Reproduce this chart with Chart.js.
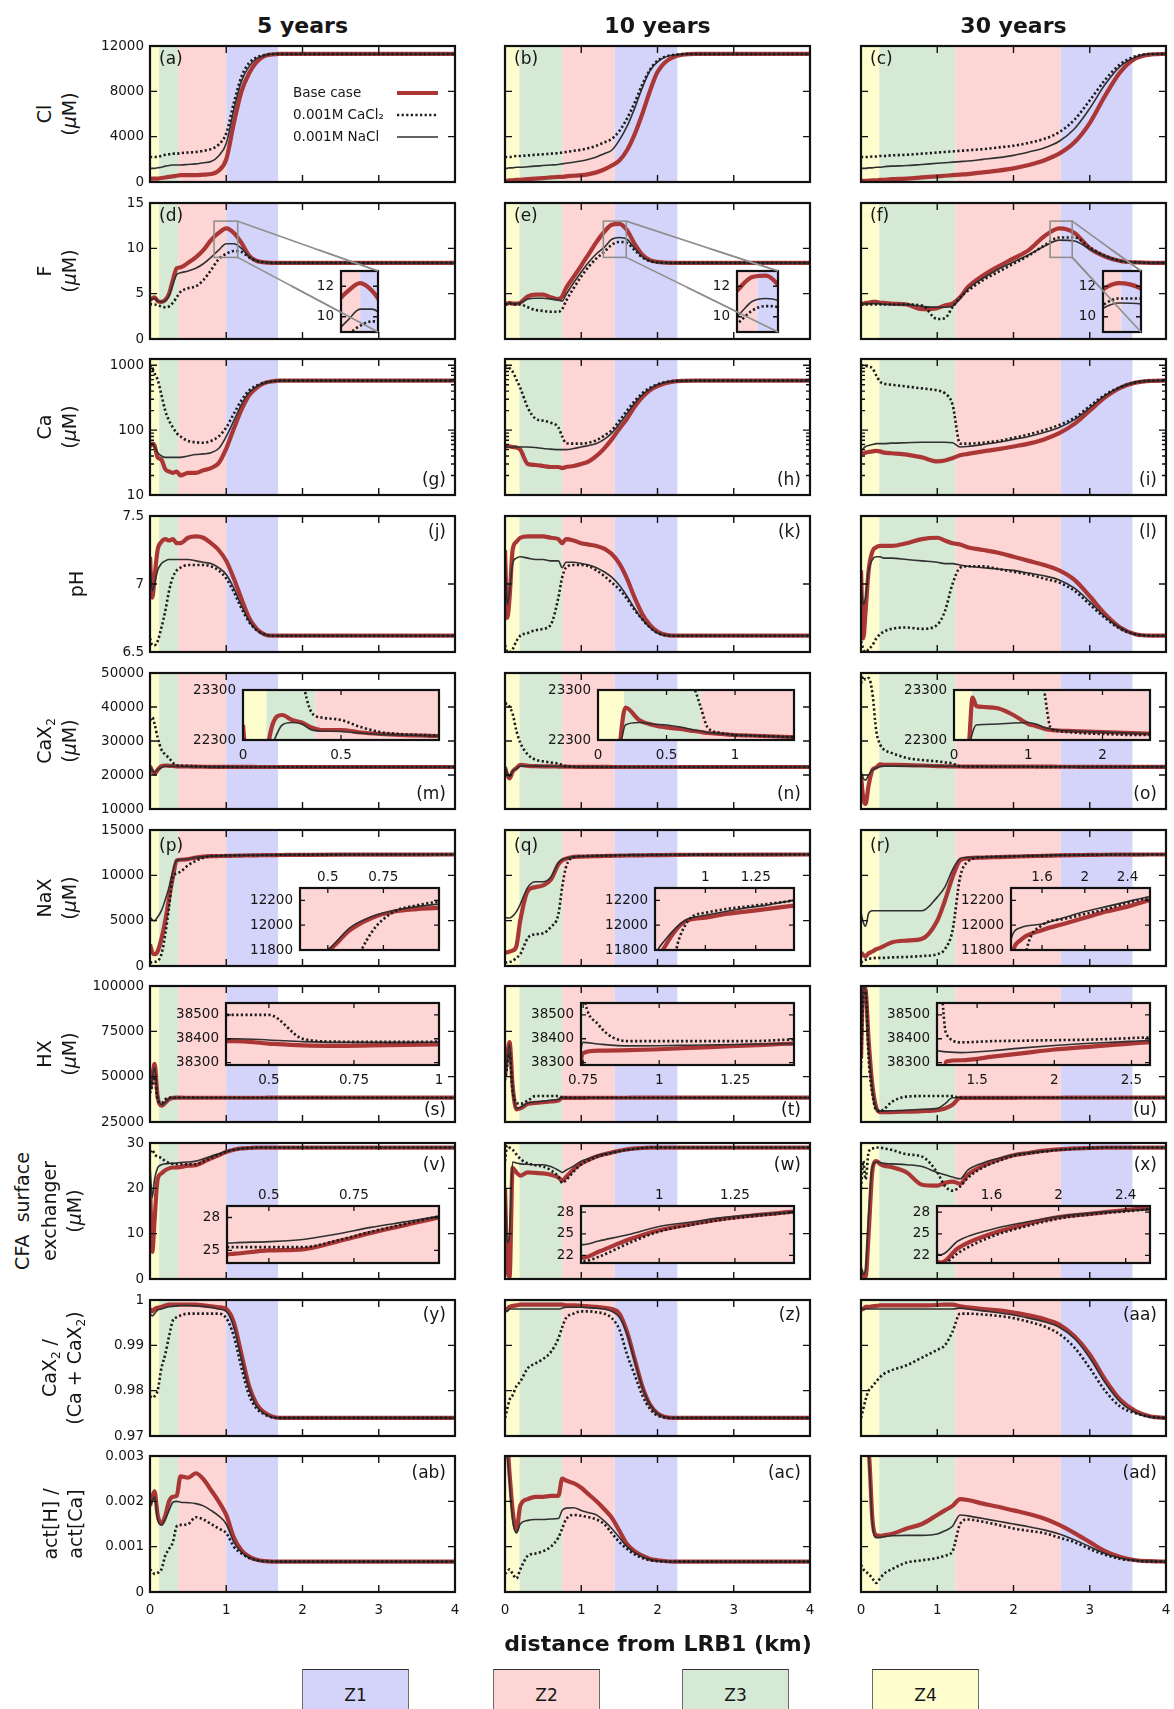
<!DOCTYPE html>
<html>
<head>
<meta charset="utf-8">
<title>Profiles along distance from LRB1</title>
<script src="https://cdn.jsdelivr.net/npm/chart.js@4.4.1/dist/chart.umd.min.js"></script>
<style>
  body { margin:0; width:1174px; height:1709px; position:relative; overflow:hidden; background:#fff;
         font-family:"DejaVu Sans", sans-serif; color:#161616; }
  canvas { position:absolute; }
  .ctitle { position:absolute; top:25px; transform:translate(-50%,-50%); font-weight:bold; font-size:22px; white-space:nowrap; }
  .ylab { position:absolute; transform:translate(-50%,-50%) rotate(-90deg); white-space:nowrap; font-size:19px; line-height:1; }
  .ylab sub { font-size:12px; line-height:0; }
  .xlab { position:absolute; left:658px; top:1643px; transform:translate(-50%,-50%); font-weight:bold; font-size:22px; white-space:nowrap; }
  .zbox { position:absolute; top:1669px; width:105px; height:50px; line-height:50px; text-align:center; font-size:17px;
          border:1px solid #6a6a6a; border-top-color:#333; }
</style>
</head>
<body>
<script>
// distance grids (km) for 5, 10 and 30 years
const km5  = [0,0.03,0.06,0.1,0.15,0.2,0.25,0.3,0.35,0.4,0.5,0.6,0.7,0.8,0.9,1.0,1.1,1.2,1.3,1.4,1.5,1.6,1.7,1.8,2.0,2.5,4.0];
const km10 = [0,0.03,0.06,0.1,0.15,0.2,0.3,0.4,0.5,0.6,0.7,0.75,0.8,0.9,1.0,1.1,1.2,1.3,1.4,1.5,1.6,1.7,1.8,1.9,2.0,2.2,2.5,4.0];
const km30 = [0,0.03,0.06,0.1,0.15,0.2,0.25,0.3,0.4,0.6,0.8,1.0,1.1,1.2,1.3,1.4,1.6,1.8,2.0,2.2,2.4,2.6,2.8,3.0,3.2,3.4,3.6,3.8,4.0];

// zone limits (km): Z4 | Z3 | Z2 | Z1
const zones5  = [0, 0.12, 0.37, 1.0, 1.68];
const zones10 = [0, 0.19, 0.75, 1.44, 2.26];
const zones30 = [0, 0.24, 1.24, 2.62, 3.56];

const seriesNames = ['Base case', '0.001M CaCl\u2082', '0.001M NaCl'];
const zoneNames = ['Z1', 'Z2', 'Z3', 'Z4'];
const columnTitles = ['5 years', '10 years', '30 years'];
const xTicks = [0, 1, 2, 3, 4];

// ---- 5 years ----
const cl5Base   = [300,300,300,300,350,400,450,500,550,600,600,600,650,700,1000,2000,5200,8000,9600,10600,11100,11250,11300,11300,11300,11300,11300];
const cl5CaCl2  = [2200,2200,2200,2250,2300,2400,2450,2500,2500,2550,2600,2650,2750,2900,3300,4300,7000,9300,10500,11000,11200,11300,11300,11300,11300,11300,11300];
const cl5NaCl   = [1200,1200,1200,1250,1300,1400,1450,1500,1500,1500,1550,1600,1700,1800,2300,3400,6400,8900,10200,10900,11150,11300,11300,11300,11300,11300,11300];
const f5Base    = [4.3,4.5,4.6,4.2,4.1,4.3,5.0,6.5,7.8,7.9,8.4,9.0,9.8,10.9,11.7,12.2,11.7,10.6,9.2,8.6,8.45,8.4,8.4,8.4,8.4,8.4,8.4];
const f5CaCl2   = [3.9,3.8,3.8,3.7,3.6,3.5,3.6,4.0,4.6,5.2,5.6,5.8,6.5,7.6,8.8,9.4,9.7,9.6,9.0,8.6,8.45,8.4,8.4,8.4,8.4,8.4,8.4];
const f5NaCl    = [4.3,4.4,4.5,4.2,4.1,4.2,4.8,6.0,7.1,7.3,7.5,7.8,8.3,9.0,9.8,10.5,10.5,10.0,9.1,8.6,8.45,8.4,8.4,8.4,8.4,8.4,8.4];
const ca5Base   = [56,62,58,38,35,25,23,22,23,20,22,22,24,26,31,52,106,207,345,450,530,565,580,580,580,580,580];
const ca5CaCl2  = [1000,900,750,600,350,200,140,110,90,80,68,65,64,68,80,110,180,290,410,490,540,565,580,580,580,580,580];
const ca5NaCl   = [60,62,55,45,40,38,38,38,38,38,40,42,43,45,52,80,140,250,380,470,530,565,580,580,580,580,580];
const ph5Base   = [7.2,6.9,7.05,7.25,7.31,7.33,7.32,7.33,7.3,7.3,7.34,7.35,7.34,7.3,7.25,7.17,7.04,6.89,6.75,6.67,6.63,6.62,6.62,6.62,6.62,6.62,6.62];
const ph5CaCl2  = [6.6,6.55,6.55,6.58,6.68,6.8,6.95,7.05,7.1,7.12,7.14,7.14,7.14,7.13,7.1,7.04,6.94,6.82,6.72,6.66,6.63,6.62,6.62,6.62,6.62,6.62,6.62];
const ph5NaCl   = [7.15,6.95,7.0,7.1,7.15,7.17,7.18,7.18,7.18,7.18,7.18,7.17,7.16,7.15,7.12,7.07,6.97,6.84,6.73,6.66,6.63,6.62,6.62,6.62,6.62,6.62,6.62];
const cax5Base  = [22600,21200,20300,21500,22600,22800,22700,22650,22550,22500,22500,22450,22420,22400,22390,22380,22380,22370,22370,22360,22360,22360,22350,22350,22350,22350,22350];
const cax5CaCl2 = [36000,37000,35000,31000,27500,26000,25000,23600,22850,22750,22700,22560,22460,22420,22400,22390,22380,22370,22370,22360,22360,22360,22350,22350,22350,22350,22350];
const cax5NaCl  = [22400,21500,20800,21600,22200,22600,22650,22620,22500,22480,22470,22440,22410,22400,22390,22380,22380,22370,22370,22360,22360,22360,22350,22350,22350,22350,22350];
const nax5Base  = [2400,1500,1300,1600,3000,5000,7500,9800,11650,11720,11790,11960,12060,12110,12130,12140,12160,12180,12200,12210,12220,12230,12240,12250,12260,12280,12300];
const nax5CaCl2 = [400,400,450,550,1300,3500,6500,9800,10200,10400,11100,11600,11950,12110,12160,12190,12200,12210,12220,12230,12240,12250,12260,12270,12280,12290,12300];
const nax5NaCl  = [5400,5100,5000,5400,6100,7300,8700,10500,11650,11730,11800,11980,12070,12120,12150,12170,12190,12200,12210,12220,12230,12240,12250,12260,12270,12280,12300];
const hx5Base   = [43000,50000,57000,39000,34000,35500,37500,38300,38390,38390,38380,38372,38370,38372,38374,38376,38378,38380,38382,38384,38386,38388,38390,38392,38395,38400,38400];
const hx5CaCl2  = [41000,45000,50000,37000,35500,37500,38400,38500,38500,38500,38500,38400,38388,38387,38387,38388,38389,38390,38391,38392,38393,38394,38395,38396,38397,38400,38400];
const hx5NaCl   = [43000,49000,55000,39500,34500,36000,37800,38380,38400,38400,38395,38388,38385,38385,38385,38386,38387,38388,38389,38390,38391,38392,38393,38394,38396,38400,38400];
const cfa5Base  = [21,6,13,22,23.3,24,24.4,24.6,24.6,24.7,25.0,25.1,25.8,26.6,27.3,28.0,28.5,28.8,28.9,29,29,29,29,29,29,29,29];
const cfa5CaCl2 = [28,28.5,27.5,27,26.7,26,25.6,25.4,25.3,25.3,25.3,25.3,25.9,26.7,27.4,28.1,28.5,28.8,28.9,29,29,29,29,29,29,29,29];
const cfa5NaCl  = [25,18,22,24.5,25.2,25.4,25.5,25.5,25.6,25.7,25.8,26.0,26.5,27.1,27.6,28.1,28.5,28.8,28.9,29,29,29,29,29,29,29,29];
const rat5Base  = [0.998,0.9975,0.998,0.9983,0.9985,0.9988,0.999,0.999,0.999,0.999,0.999,0.999,0.9988,0.9986,0.9984,0.998,0.995,0.988,0.981,0.977,0.9752,0.9743,0.974,0.974,0.974,0.974,0.974];
const rat5CaCl2 = [0.9785,0.979,0.9788,0.98,0.985,0.988,0.992,0.9955,0.9962,0.9966,0.997,0.997,0.997,0.997,0.997,0.996,0.992,0.985,0.979,0.976,0.9748,0.9741,0.974,0.974,0.974,0.974,0.974];
const rat5NaCl  = [0.997,0.9965,0.997,0.9978,0.998,0.9983,0.9985,0.9986,0.9987,0.9988,0.9988,0.9987,0.9986,0.9984,0.998,0.9975,0.994,0.987,0.9805,0.9765,0.975,0.9742,0.974,0.974,0.974,0.974,0.974];
const act5Base  = [0.0019,0.0021,0.00222,0.0017,0.0015,0.00168,0.002,0.0021,0.00212,0.00255,0.00252,0.00262,0.00249,0.00225,0.002,0.0017,0.0012,0.00092,0.00078,0.00071,0.00068,0.00067,0.00067,0.00067,0.00067,0.00067,0.00067];
const act5CaCl2 = [0.0005,0.00045,0.0004,0.00042,0.0005,0.0008,0.00095,0.0011,0.00145,0.00148,0.0015,0.00165,0.0016,0.0015,0.0014,0.0013,0.001,0.00085,0.00075,0.0007,0.00068,0.00067,0.00067,0.00067,0.00067,0.00067,0.00067];
const act5NaCl  = [0.0019,0.002,0.0021,0.0016,0.00148,0.0016,0.0018,0.00198,0.002,0.00198,0.00197,0.00195,0.0019,0.0018,0.00168,0.0015,0.0011,0.00088,0.00076,0.0007,0.00068,0.00067,0.00067,0.00067,0.00067,0.00067,0.00067];

// ---- 10 years ----
const cl10Base   = [100,100,150,150,200,200,250,300,350,400,450,450,500,550,600,700,850,1100,1450,1900,2800,4200,6000,8000,9700,11000,11300,11300];
const cl10CaCl2  = [2200,2200,2200,2250,2300,2300,2350,2400,2450,2500,2550,2600,2650,2750,2850,3000,3200,3500,3800,4500,5600,7000,8600,9900,10700,11200,11300,11300];
const cl10NaCl   = [1200,1200,1250,1250,1300,1300,1350,1400,1450,1500,1550,1600,1650,1750,1850,2000,2200,2500,2800,3700,4900,6500,8300,9800,10600,11200,11300,11300];
const f10Base    = [3.9,3.9,4.0,3.9,3.9,4.0,4.7,4.9,4.9,4.6,4.4,4.7,5.6,6.85,8.1,9.4,10.7,11.8,12.6,12.7,12.0,10.5,9.3,8.7,8.5,8.4,8.4,8.4];
const f10CaCl2   = [3.8,3.8,3.9,3.8,3.8,3.8,3.5,3.2,3.1,3.0,3.0,3.3,4.2,5.6,6.9,8.0,8.9,9.6,10.4,10.7,10.6,9.8,9.0,8.6,8.45,8.4,8.4,8.4];
const f10NaCl    = [3.9,3.9,4.0,3.9,3.9,4.0,4.4,4.5,4.5,4.4,4.3,4.2,4.9,6.2,7.4,8.5,9.4,10.1,11.0,11.2,11.0,10.0,9.1,8.6,8.45,8.4,8.4,8.4];
const ca10Base   = [55,56,56,55,54,50,30,29,28,27,27,26,27,28,30,33,40,52,72,105,150,230,320,410,480,560,580,580];
const ca10CaCl2  = [1000,950,900,800,600,450,220,150,140,130,110,80,63,62,62,64,70,82,100,140,200,280,370,450,510,570,580,580];
const ca10NaCl   = [55,55,55,55,55,55,55,54,52,51,50,50,50,52,55,58,62,72,90,125,180,260,350,430,500,565,580,580];
const ph10Base   = [7.25,6.75,6.9,7.25,7.31,7.34,7.35,7.35,7.35,7.34,7.33,7.3,7.33,7.32,7.3,7.29,7.28,7.26,7.22,7.15,7.04,6.9,6.78,6.7,6.65,6.62,6.62,6.62];
const ph10CaCl2  = [6.55,6.5,6.5,6.52,6.58,6.62,6.64,6.66,6.67,6.7,6.9,7.05,7.12,7.14,7.14,7.13,7.1,7.06,7.01,6.96,6.89,6.81,6.74,6.68,6.64,6.62,6.62,6.62];
const ph10NaCl   = [7.2,6.85,6.95,7.15,7.19,7.2,7.19,7.18,7.18,7.17,7.17,7.12,7.16,7.16,7.15,7.14,7.12,7.09,7.05,6.99,6.91,6.82,6.74,6.68,6.64,6.62,6.62,6.62];
const cax10Base  = [22300,20000,19000,21000,22000,22950,22700,22600,22550,22520,22480,22460,22440,22420,22400,22390,22380,22370,22360,22350,22350,22350,22350,22350,22350,22350,22350,22350];
const cax10CaCl2 = [41000,41000,40000,38000,33000,29500,26000,24500,24000,23700,23350,22950,22550,22440,22400,22390,22380,22370,22360,22350,22350,22350,22350,22350,22350,22350,22350,22350];
const cax10NaCl  = [22300,20500,19500,21200,21900,22600,22650,22620,22600,22560,22500,22480,22450,22420,22400,22390,22380,22370,22360,22350,22350,22350,22350,22350,22350,22350,22350,22350];
const nax10Base  = [1500,1500,1600,1700,2200,5000,8300,8700,8900,9500,11200,11650,11830,12030,12060,12090,12110,12130,12150,12170,12190,12200,12210,12220,12230,12250,12270,12300];
const nax10CaCl2 = [370,400,450,550,900,1300,3100,3500,3600,4300,5700,8700,10900,12000,12100,12130,12150,12170,12190,12210,12220,12230,12240,12250,12260,12270,12280,12300];
const nax10NaCl  = [5400,5300,5300,5500,6000,6800,8700,9300,9300,9800,11400,11750,11880,12040,12080,12110,12140,12160,12190,12210,12220,12230,12240,12250,12260,12270,12280,12300];
const hx10Base   = [50000,62000,69000,45000,32000,32500,35000,35500,35900,36300,36800,38340,38350,38352,38356,38362,38367,38372,38378,38382,38386,38390,38393,38395,38397,38398,38400,38400];
const hx10CaCl2  = [48000,56000,63000,42000,36000,35000,36800,39300,39300,39300,39300,38600,38460,38390,38390,38390,38390,38390,38395,38400,38400,38400,38400,38400,38400,38400,38400,38400];
const hx10NaCl   = [50000,60000,68000,44000,32500,33000,35500,36000,36500,37000,37500,38385,38378,38370,38371,38373,38375,38377,38379,38381,38384,38387,38390,38393,38395,38397,38400,38400];
const cfa10Base  = [20,3,0.5,24.5,23.5,22.8,23.5,23.4,23.3,23.0,22.4,21.7,22.5,24.2,25.5,26.3,27.0,27.5,27.9,28.3,28.6,28.8,28.9,29,29,29,29,29];
const cfa10CaCl2 = [26,29.5,29,28.5,27.5,26.5,25.5,25.1,24.8,24.0,22.6,21.2,21.8,23.7,25.3,26.2,26.9,27.4,27.8,28.2,28.5,28.7,28.9,29,29,29,29,29];
const cfa10NaCl  = [22,8,10,25.8,25.6,25.4,25.3,25.2,25.2,24.8,24.0,23.5,24.0,24.9,26.0,26.6,27.2,27.6,27.9,28.2,28.5,28.7,28.9,29,29,29,29,29];
const rat10Base  = [0.998,0.998,0.9985,0.9987,0.9988,0.999,0.999,0.999,0.999,0.999,0.999,0.999,0.9988,0.9988,0.9987,0.9986,0.9985,0.9983,0.998,0.997,0.993,0.987,0.981,0.977,0.975,0.974,0.974,0.974];
const rat10CaCl2 = [0.974,0.976,0.978,0.979,0.981,0.982,0.985,0.986,0.987,0.9885,0.9915,0.994,0.996,0.997,0.9975,0.9975,0.9973,0.997,0.996,0.9935,0.988,0.9835,0.979,0.976,0.9745,0.974,0.974,0.974];
const rat10NaCl  = [0.9975,0.9975,0.998,0.998,0.998,0.998,0.998,0.998,0.998,0.998,0.998,0.9982,0.9984,0.9984,0.9984,0.9983,0.9982,0.998,0.9975,0.9962,0.9925,0.9865,0.9808,0.977,0.975,0.974,0.974,0.974];
const act10Base  = [0.0032,0.0032,0.0026,0.0018,0.00135,0.0019,0.00205,0.0021,0.0021,0.00212,0.00212,0.0025,0.00246,0.0024,0.0023,0.00215,0.002,0.00183,0.00164,0.00135,0.00106,0.0009,0.0008,0.00073,0.0007,0.00067,0.00067,0.00067];
const act10CaCl2 = [0.0004,0.00045,0.0005,0.0004,0.0003,0.0005,0.0008,0.00085,0.0009,0.001,0.0012,0.0014,0.0016,0.0017,0.00168,0.00165,0.0016,0.0015,0.0013,0.0011,0.00095,0.00083,0.00075,0.0007,0.00068,0.00067,0.00067,0.00067];
const act10NaCl  = [0.0032,0.003,0.0024,0.0016,0.0013,0.0015,0.00158,0.0016,0.0016,0.00161,0.00162,0.0018,0.00185,0.00186,0.0018,0.00175,0.0017,0.00157,0.0014,0.0012,0.001,0.00087,0.00078,0.00072,0.00069,0.00067,0.00067,0.00067];

// ---- 30 years ----
const cl30Base   = [100,100,100,120,150,150,180,200,250,300,400,500,550,600,650,700,850,1000,1200,1500,1900,2500,3500,5200,7600,9700,10900,11250,11300];
const cl30CaCl2  = [2200,2200,2200,2200,2250,2250,2300,2300,2350,2400,2500,2600,2650,2700,2750,2800,2900,3050,3200,3450,3800,4400,5500,7200,9000,10400,11100,11300,11300];
const cl30NaCl   = [1200,1200,1200,1250,1250,1300,1300,1350,1400,1450,1550,1650,1700,1750,1800,1850,2000,2150,2350,2650,3000,3600,4700,6500,8600,10200,11000,11300,11300];
const f30Base    = [3.9,3.9,4.0,4.0,4.1,4.1,4.0,4.0,3.9,3.8,3.3,3.4,3.7,3.9,4.6,5.7,7.0,8.0,8.9,9.8,11.3,12.2,11.7,10.0,9.1,8.6,8.45,8.4,8.4];
const f30CaCl2   = [3.8,3.8,3.8,3.8,3.8,3.8,3.8,3.8,3.8,3.8,3.7,2.2,2.3,3.5,4.6,5.3,6.5,7.4,8.3,9.2,10.3,11.2,11.2,10.1,9.2,8.6,8.45,8.4,8.4];
const f30NaCl    = [3.9,3.9,3.9,3.9,3.9,3.9,3.9,3.8,3.8,3.8,3.6,3.5,3.5,3.6,4.5,5.5,6.7,7.7,8.5,9.3,10.2,10.9,10.8,9.9,9.1,8.6,8.45,8.4,8.4];
const ca30Base   = [45,44,45,46,47,48,47,45,44,42,38,33,34,37,41,43,47,51,56,62,72,90,125,200,320,450,540,575,580];
const ca30CaCl2  = [1000,1000,980,950,900,700,560,520,500,470,440,410,370,250,62,62,64,68,76,86,100,120,155,235,350,460,545,575,580];
const ca30NaCl   = [48,52,56,58,60,62,62,62,63,64,65,65,65,64,55,56,60,65,72,80,92,110,145,220,340,460,545,575,580];
const ph30Base   = [7.1,6.6,6.8,7.1,7.24,7.27,7.28,7.28,7.28,7.3,7.33,7.34,7.32,7.3,7.29,7.27,7.25,7.23,7.2,7.17,7.14,7.1,7.03,6.91,6.78,6.68,6.63,6.62,6.62];
const ph30CaCl2  = [6.58,6.52,6.5,6.52,6.55,6.6,6.63,6.65,6.67,6.68,6.67,6.7,6.8,7.0,7.12,7.13,7.13,7.11,7.09,7.07,7.04,7.01,6.95,6.85,6.75,6.67,6.63,6.62,6.62];
const ph30NaCl   = [7.0,6.85,6.9,7.1,7.18,7.2,7.2,7.19,7.19,7.18,7.17,7.16,7.15,7.15,7.14,7.13,7.12,7.11,7.1,7.08,7.06,7.03,6.97,6.87,6.76,6.68,6.63,6.62,6.62];
const cax30Base  = [20000,13000,11500,17000,21500,22200,23150,22980,22960,22930,22800,22620,22580,22530,22500,22490,22480,22470,22460,22450,22440,22430,22420,22400,22400,22400,22400,22400,22400];
const cax30CaCl2 = [47000,49000,48000,48500,44000,33000,29000,27500,26500,25000,24400,24000,23700,23400,22550,22480,22450,22430,22420,22410,22400,22400,22400,22400,22400,22400,22400,22400,22400];
const cax30NaCl  = [21000,19000,18500,20000,21500,22100,22450,22600,22610,22620,22640,22650,22620,22560,22520,22500,22480,22470,22460,22450,22440,22430,22420,22400,22400,22400,22400,22400,22400];
const nax30Base  = [1500,1200,1100,1400,1600,1850,2000,2200,2600,2800,3000,5000,7200,9800,11650,11880,11960,12010,12060,12110,12150,12200,12230,12250,12270,12280,12290,12300,12300];
const nax30CaCl2 = [370,600,700,800,850,900,900,900,950,1000,1100,1300,1850,3900,9800,11500,12000,12050,12090,12130,12180,12220,12240,12260,12280,12290,12300,12300,12300];
const nax30NaCl  = [5900,4800,4400,5800,6100,6100,6100,6100,6100,6100,6100,7600,8700,10600,11850,11980,12010,12060,12110,12150,12190,12230,12250,12270,12280,12290,12300,12300,12300];
const hx30Base   = [60000,100000,98000,70000,45000,33000,30500,30500,30500,30700,31000,31500,32500,34500,38305,38310,38325,38340,38355,38365,38375,38385,38390,38395,38398,38400,38400,38400,38400];
const hx30CaCl2  = [55000,95000,97000,60000,40000,31500,31000,32000,36000,39000,39300,39300,39300,39300,38420,38385,38390,38392,38394,38396,38400,38405,38405,38405,38405,38405,38405,38405,38405];
const hx30NaCl   = [60000,100000,97000,68000,44000,32500,31000,31000,31200,31500,32000,32500,35000,38352,38345,38342,38350,38362,38372,38380,38386,38393,38396,38398,38400,38400,38400,38400,38400];
const cfa30Base  = [2,0.5,0.5,10,24,26,25.4,25,24.7,23.5,20.8,20.6,21.2,21.5,21.0,23.0,25.0,26.3,27.3,27.8,28.3,28.6,28.8,28.9,29,29,29,29,29];
const cfa30CaCl2 = [20,26,22,28,28.8,29,29,28.8,28.5,27.5,27.0,23.5,20.5,19.5,20.4,22.3,24.6,26.0,27.1,27.7,28.1,28.5,28.7,28.9,29,29,29,29,29];
const cfa30NaCl  = [3,1,2,14,25,25.8,25.7,25.5,25.4,25.2,24.8,23.5,23.0,22.5,22.1,24.0,25.6,26.6,27.4,27.9,28.2,28.5,28.7,28.9,29,29,29,29,29];
const rat30Base  = [0.998,0.998,0.9985,0.9985,0.9986,0.9987,0.9988,0.9988,0.9988,0.9988,0.9988,0.9989,0.999,0.999,0.9986,0.9984,0.998,0.9977,0.9972,0.9966,0.9958,0.9946,0.992,0.988,0.9825,0.978,0.9755,0.9743,0.974];
const rat30CaCl2 = [0.974,0.976,0.978,0.98,0.981,0.982,0.983,0.9837,0.9845,0.9856,0.9873,0.989,0.99,0.993,0.997,0.997,0.9968,0.9965,0.996,0.9952,0.9942,0.9925,0.9895,0.985,0.98,0.9765,0.975,0.9742,0.974];
const rat30NaCl  = [0.998,0.998,0.998,0.998,0.998,0.998,0.998,0.998,0.998,0.998,0.998,0.998,0.998,0.998,0.9982,0.998,0.9976,0.9972,0.9967,0.996,0.9952,0.994,0.9915,0.9872,0.9818,0.9775,0.9752,0.9742,0.974];
const act30Base  = [0.0032,0.0032,0.0032,0.0031,0.0016,0.00125,0.00124,0.00125,0.00128,0.0014,0.0015,0.0017,0.0018,0.0019,0.00205,0.00203,0.00195,0.00188,0.0018,0.00172,0.00162,0.00148,0.0013,0.0011,0.0009,0.00077,0.0007,0.00068,0.00067];
const act30CaCl2 = [0.0006,0.0005,0.00045,0.0004,0.0003,0.0002,0.0003,0.0004,0.0005,0.00065,0.0007,0.00075,0.0008,0.0009,0.0015,0.0016,0.00155,0.00148,0.0014,0.00135,0.0013,0.0012,0.0011,0.00095,0.00082,0.00073,0.00069,0.00067,0.00067];
const act30NaCl  = [0.0032,0.0032,0.0032,0.003,0.0015,0.0012,0.0012,0.00122,0.00124,0.00125,0.00125,0.00128,0.00135,0.00145,0.0017,0.00168,0.00162,0.00156,0.0015,0.00144,0.00137,0.00128,0.00115,0.001,0.00085,0.00075,0.0007,0.00068,0.00067];

const grids = [km5, km10, km30];
const zones = [zones5, zones10, zones30];
const dataRows = [
  [[cl5Base, cl5CaCl2, cl5NaCl],    [cl10Base, cl10CaCl2, cl10NaCl],    [cl30Base, cl30CaCl2, cl30NaCl]],
  [[f5Base, f5CaCl2, f5NaCl],       [f10Base, f10CaCl2, f10NaCl],       [f30Base, f30CaCl2, f30NaCl]],
  [[ca5Base, ca5CaCl2, ca5NaCl],    [ca10Base, ca10CaCl2, ca10NaCl],    [ca30Base, ca30CaCl2, ca30NaCl]],
  [[ph5Base, ph5CaCl2, ph5NaCl],    [ph10Base, ph10CaCl2, ph10NaCl],    [ph30Base, ph30CaCl2, ph30NaCl]],
  [[cax5Base, cax5CaCl2, cax5NaCl], [cax10Base, cax10CaCl2, cax10NaCl], [cax30Base, cax30CaCl2, cax30NaCl]],
  [[nax5Base, nax5CaCl2, nax5NaCl], [nax10Base, nax10CaCl2, nax10NaCl], [nax30Base, nax30CaCl2, nax30NaCl]],
  [[hx5Base, hx5CaCl2, hx5NaCl],    [hx10Base, hx10CaCl2, hx10NaCl],    [hx30Base, hx30CaCl2, hx30NaCl]],
  [[cfa5Base, cfa5CaCl2, cfa5NaCl], [cfa10Base, cfa10CaCl2, cfa10NaCl], [cfa30Base, cfa30CaCl2, cfa30NaCl]],
  [[rat5Base, rat5CaCl2, rat5NaCl], [rat10Base, rat10CaCl2, rat10NaCl], [rat30Base, rat30CaCl2, rat30NaCl]],
  [[act5Base, act5CaCl2, act5NaCl], [act10Base, act10CaCl2, act10NaCl], [act30Base, act30CaCl2, act30NaCl]]
];

const rowAxes = [
  {min: 0, max: 12000, ticks: [0, 4000, 8000, 12000]},
  {min: 0, max: 15, ticks: [0, 5, 10, 15]},
  {log: true, min: 10, max: 1250, ticks: [10, 100, 1000], minor: [20,30,40,50,60,70,80,90,200,300,400,500,600,700,800,900]},
  {min: 6.5, max: 7.5, ticks: [6.5, 7, 7.5]},
  {min: 10000, max: 50000, ticks: [10000, 20000, 30000, 40000, 50000]},
  {min: 0, max: 15000, ticks: [0, 5000, 10000, 15000]},
  {min: 25000, max: 100000, ticks: [25000, 50000, 75000, 100000]},
  {min: 0, max: 30, ticks: [0, 10, 20, 30]},
  {min: 0.97, max: 1, ticks: [0.97, 0.98, 0.99, 1]},
  {min: 0, max: 0.003, ticks: [0, 0.001, 0.002, 0.003]}
];

const yLabels = [
  [['Cl', 44], ['(<i>\u03bc</i>M)', 69]],
  [['F', 44], ['(<i>\u03bc</i>M)', 69]],
  [['Ca', 44], ['(<i>\u03bc</i>M)', 69]],
  [['pH', 76]],
  [['CaX<sub>2</sub>', 44], ['(<i>\u03bc</i>M)', 69]],
  [['NaX', 44], ['(<i>\u03bc</i>M)', 69]],
  [['HX', 44], ['(<i>\u03bc</i>M)', 69]],
  [['CFA&nbsp; surface', 22], ['exchanger', 49], ['(<i>\u03bc</i>M)', 74]],
  [['CaX<sub>2</sub> /', 49], ['(Ca + CaX<sub>2</sub>)', 74]],
  [['act[H] /', 50], ['act[Ca]', 75]]
];

// panel letter placement per row
const letterPos = [['tl', 14], ['tl', 14], ['br', -14], ['tr', 17], ['br', -14], ['tl', 17], ['br', -11], ['tr', 23], ['tr', 16], ['tr', 18]];
const letters = 'abcdefghijklmnopqrstuvwxyz'.split('').concat(['aa', 'ab', 'ac', 'ad']);

// insets: box as fraction of the host plot area
const insets = [
  {row: 1, col: 0, box: [0.625, 0.497, 0.749, 0.952], x: [0.84, 1.15], y: [9, 13], xt: [], yt: [10, 12], zoom: true},
  {row: 1, col: 1, box: [0.762, 0.497, 0.895, 0.952], x: [1.29, 1.59], y: [9, 13], xt: [], yt: [10, 12], zoom: true},
  {row: 1, col: 2, box: [0.792, 0.497, 0.918, 0.952], x: [2.48, 2.77], y: [9, 13], xt: [], yt: [10, 12], zoom: true},
  {row: 4, col: 0, box: [0.304, 0.127, 0.949, 0.489], x: [0, 1.0], y: [22300, 23300], xt: [0, 0.5], yt: [22300, 23300], xl: 'below'},
  {row: 4, col: 1, box: [0.304, 0.127, 0.949, 0.489], x: [0, 1.43], y: [22300, 23300], xt: [0, 0.5, 1], yt: [22300, 23300], xl: 'below'},
  {row: 4, col: 2, box: [0.304, 0.127, 0.949, 0.489], x: [0, 2.64], y: [22300, 23300], xt: [0, 1, 2], yt: [22300, 23300], xl: 'below'},
  {row: 5, col: 0, box: [0.493, 0.43, 0.949, 0.882], x: [0.375, 1.0], y: [11800, 12300], xt: [0.5, 0.75], yt: [11800, 12000, 12200], xl: 'above'},
  {row: 5, col: 1, box: [0.493, 0.43, 0.949, 0.882], x: [0.75, 1.44], y: [11800, 12300], xt: [1, 1.25], yt: [11800, 12000, 12200], xl: 'above'},
  {row: 5, col: 2, box: [0.493, 0.43, 0.949, 0.882], x: [1.31, 2.61], y: [11800, 12300], xt: [1.6, 2, 2.4], yt: [11800, 12000, 12200], xl: 'above'},
  {row: 6, col: 0, box: [0.25, 0.126, 0.949, 0.582], x: [0.374, 1.0], y: [38290, 38550], xt: [0.5, 0.75, 1], yt: [38300, 38400, 38500], xl: 'below'},
  {row: 6, col: 1, box: [0.248, 0.126, 0.949, 0.582], x: [0.743, 1.443], y: [38290, 38550], xt: [0.75, 1, 1.25], yt: [38300, 38400, 38500], xl: 'below'},
  {row: 6, col: 2, box: [0.248, 0.126, 0.949, 0.582], x: [1.24, 2.62], y: [38290, 38550], xt: [1.5, 2, 2.5], yt: [38300, 38400, 38500], xl: 'below'},
  {row: 7, col: 0, box: [0.252, 0.463, 0.949, 0.884], x: [0.377, 1.0], y: [23.85, 29.05], xt: [0.5, 0.75], yt: [25, 28], xl: 'above'},
  {row: 7, col: 1, box: [0.25, 0.463, 0.949, 0.884], x: [0.742, 1.445], y: [20.95, 28.85], xt: [1, 1.25], yt: [22, 25, 28], xl: 'above'},
  {row: 7, col: 2, box: [0.248, 0.463, 0.949, 0.884], x: [1.275, 2.545], y: [20.95, 28.85], xt: [1.6, 2, 2.4], yt: [22, 25, 28], xl: 'above'}
];

// sanity check on array lengths
dataRows.forEach((row, r) => row.forEach((ser, c) => ser.forEach((s, k) => {
  if (s.length !== grids[c].length) throw new Error('length mismatch row ' + r + ' col ' + c + ' series ' + k + ': ' + s.length);
})));

const PLOT_W = 305, PLOT_H = 136;
const COL_X = [150, 505, 861];
const ROW_Y = [46, 203, 359, 516, 673, 830, 986, 1143, 1300, 1456];
const PAD = {left: 62, right: 8, top: 8, bottom: 30};
const IPAD = {left: 50, right: 8, top: 22, bottom: 22};
const ZONE_COLORS = ['rgb(253,253,206)', 'rgb(213,233,212)', 'rgb(253,213,213)', 'rgb(212,212,251)'];
const ZONE_LEGEND = ['rgb(212,212,251)', 'rgb(253,213,213)', 'rgb(213,233,212)', 'rgb(253,253,206)'];
const TEXT = '#161616';
const TICK_FONT = '13.5px "DejaVu Sans"';
const STYLES = [
  {borderColor: 'rgb(170,54,54)', borderWidth: 4.2, borderDash: [], order: 2},
  {borderColor: '#1c1c1c', borderWidth: 2.6, borderDash: [2.2, 2.4], order: 0},
  {borderColor: '#303030', borderWidth: 1.6, borderDash: [], order: 1}
];

Chart.defaults.font.family = '"DejaVu Sans", sans-serif';

function makeDatasets(grid, ser) {
  return ser.map((arr, k) => ({
    label: seriesNames[k],
    data: grid.map((x, i) => ({x: x, y: arr[i]})),
    borderColor: STYLES[k].borderColor,
    borderWidth: STYLES[k].borderWidth,
    borderDash: STYLES[k].borderDash,
    order: STYLES[k].order,
    pointRadius: 0,
    fill: false,
    cubicInterpolationMode: 'monotone'
  }));
}

function shadeZones(chart, col) {
  const {ctx, chartArea: a} = chart, xs = chart.scales.x, z = zones[col];
  ctx.save();
  ctx.fillStyle = '#fff';
  ctx.fillRect(a.left, a.top, a.width, a.height);
  for (let i = 0; i < 4; i++) {
    const x0 = Math.max(a.left, xs.getPixelForValue(z[i]));
    const x1 = Math.min(a.right, xs.getPixelForValue(z[i + 1]));
    if (x1 > x0) { ctx.fillStyle = ZONE_COLORS[i]; ctx.fillRect(x0, a.top, x1 - x0, a.height); }
  }
  ctx.restore();
}

function inTicks(ctx, a, xs, ys, xv, yv, len) {
  ctx.beginPath();
  xv.forEach(v => {
    const p = xs.getPixelForValue(v);
    ctx.moveTo(p, a.bottom); ctx.lineTo(p, a.bottom - len);
    ctx.moveTo(p, a.top); ctx.lineTo(p, a.top + len);
  });
  yv.forEach(v => {
    const p = ys.getPixelForValue(v);
    ctx.moveTo(a.left, p); ctx.lineTo(a.left + len, p);
    ctx.moveTo(a.right, p); ctx.lineTo(a.right - len, p);
  });
  ctx.stroke();
}

function insetRect(s) {
  return {
    x0: Math.round(COL_X[s.col] + s.box[0] * PLOT_W),
    y0: Math.round(ROW_Y[s.row] + s.box[1] * PLOT_H),
    x1: Math.round(COL_X[s.col] + s.box[2] * PLOT_W),
    y1: Math.round(ROW_Y[s.row] + s.box[3] * PLOT_H)
  };
}

function drawConnectors(ctx, m, ox, oy) {
  ctx.save();
  ctx.strokeStyle = '#8f8f8f';
  ctx.lineWidth = 1.6;
  ctx.beginPath();
  ctx.moveTo(m.rx1 - ox, m.ry0 - oy); ctx.lineTo(m.bx - ox, m.by0 - oy);
  ctx.moveTo(m.rx1 - ox, m.ry1 - oy); ctx.lineTo(m.bx - ox, m.by1 - oy);
  ctx.stroke();
  ctx.restore();
}

function baseOptions(xmin, xmax, ytype, ymin, ymax, pad) {
  return {
    responsive: false, animation: false, events: [],
    layout: {padding: pad},
    scales: {
      x: {type: 'linear', min: xmin, max: xmax, display: false},
      y: {type: ytype, min: ymin, max: ymax, display: false}
    },
    plugins: {legend: {display: false}, tooltip: {enabled: false}}
  };
}

function makePanel(r, c) {
  const ax = rowAxes[r];
  const ins = insets.find(s => s.row === r && s.col === c);
  const cv = document.createElement('canvas');
  cv.width = PLOT_W + PAD.left + PAD.right;
  cv.height = PLOT_H + PAD.top + PAD.bottom;
  cv.style.left = (COL_X[c] - PAD.left) + 'px';
  cv.style.top = (ROW_Y[r] - PAD.top) + 'px';
  document.body.appendChild(cv);

  new Chart(cv, {
    type: 'line',
    data: {datasets: makeDatasets(grids[c], dataRows[r][c])},
    options: baseOptions(0, 4, ax.log ? 'logarithmic' : 'linear', ax.min, ax.max, PAD),
    plugins: [{
      id: 'panel',
      beforeDatasetsDraw(chart) { shadeZones(chart, c); },
      afterDraw(chart) {
        const {ctx, chartArea: a} = chart, xs = chart.scales.x, ys = chart.scales.y;
        const ox = COL_X[c] - a.left, oy = ROW_Y[r] - a.top;
        ctx.save();
        if (ins && ins.zoom) {
          const rx0 = xs.getPixelForValue(ins.x[0]), rx1 = xs.getPixelForValue(ins.x[1]);
          const ry0 = ys.getPixelForValue(ins.y[1]), ry1 = ys.getPixelForValue(ins.y[0]);
          ctx.strokeStyle = '#8f8f8f'; ctx.lineWidth = 1.6;
          ctx.strokeRect(rx0, ry0, rx1 - rx0, ry1 - ry0);
          const b = insetRect(ins);
          ins.mark = {rx1: rx1 + ox, ry0: ry0 + oy, ry1: ry1 + oy, bx: b.x1, by0: b.y0, by1: b.y1};
          drawConnectors(ctx, ins.mark, ox, oy);
        }
        ctx.strokeStyle = '#111'; ctx.lineWidth = 1.4;
        inTicks(ctx, a, xs, ys, xTicks, ax.ticks, 7);
        if (ax.minor) inTicks(ctx, a, xs, ys, [], ax.minor, 4);
        ctx.lineWidth = 2.2;
        ctx.strokeRect(a.left, a.top, a.width, a.height);

        ctx.fillStyle = TEXT; ctx.font = TICK_FONT; ctx.textBaseline = 'middle';
        if (c === 0) {
          ctx.textAlign = 'right';
          ax.ticks.forEach(v => ctx.fillText(String(v), a.left - 6, ys.getPixelForValue(v)));
        }
        if (r === 9) {
          ctx.textAlign = 'center';
          xTicks.forEach(v => ctx.fillText(String(v), xs.getPixelForValue(v), a.bottom + 18));
        }
        // panel letter
        const [pos, dy] = letterPos[r];
        ctx.font = '17px "DejaVu Sans"';
        const txt = '(' + letters[r * 3 + c] + ')';
        if (pos === 'tl') { ctx.textAlign = 'left'; ctx.fillText(txt, a.left + 9, a.top + dy); }
        else if (pos === 'tr') { ctx.textAlign = 'right'; ctx.fillText(txt, a.right - 9, a.top + dy); }
        else { ctx.textAlign = 'right'; ctx.fillText(txt, a.right - 9, a.bottom + dy); }

        // series legend in panel (a)
        if (r === 0 && c === 0) {
          ctx.font = TICK_FONT; ctx.textAlign = 'left';
          const rows = [a.top + 47, a.top + 69, a.top + 91];
          seriesNames.forEach((name, k) => {
            ctx.fillStyle = TEXT;
            ctx.fillText(name, a.left + 143, rows[k]);
            ctx.strokeStyle = STYLES[k].borderColor;
            ctx.lineWidth = STYLES[k].borderWidth;
            ctx.setLineDash(STYLES[k].borderDash);
            ctx.beginPath(); ctx.moveTo(a.left + 247, rows[k]); ctx.lineTo(a.left + 288, rows[k]); ctx.stroke();
          });
          ctx.setLineDash([]);
        }
        ctx.restore();
      }
    }]
  });
}

function makeInset(s) {
  const b = insetRect(s);
  const cv = document.createElement('canvas');
  const left = b.x0 - IPAD.left, top = b.y0 - IPAD.top;
  cv.width = (b.x1 - b.x0) + IPAD.left + IPAD.right;
  cv.height = (b.y1 - b.y0) + IPAD.top + IPAD.bottom;
  cv.style.left = left + 'px';
  cv.style.top = top + 'px';
  document.body.appendChild(cv);

  new Chart(cv, {
    type: 'line',
    data: {datasets: makeDatasets(grids[s.col], dataRows[s.row][s.col])},
    options: baseOptions(s.x[0], s.x[1], 'linear', s.y[0], s.y[1], IPAD),
    plugins: [{
      id: 'inset',
      beforeDatasetsDraw(chart) { shadeZones(chart, s.col); },
      afterDraw(chart) {
        const {ctx, chartArea: a} = chart, xs = chart.scales.x, ys = chart.scales.y;
        ctx.save();
        ctx.strokeStyle = '#111'; ctx.lineWidth = 1.3;
        inTicks(ctx, a, xs, ys, s.xt, s.yt, 5);
        ctx.lineWidth = 2.2;
        ctx.strokeRect(a.left, a.top, a.width, a.height);
        ctx.fillStyle = TEXT; ctx.font = TICK_FONT; ctx.textBaseline = 'middle';
        ctx.textAlign = 'right';
        s.yt.forEach(v => ctx.fillText(String(v), a.left - 7, ys.getPixelForValue(v)));
        ctx.textAlign = 'center';
        s.xt.forEach(v => ctx.fillText(String(v), xs.getPixelForValue(v), s.xl === 'above' ? a.top - 11 : a.bottom + 15));
        if (s.mark) drawConnectors(ctx, s.mark, left, top);
        ctx.restore();
      }
    }]
  });
}

for (let r = 0; r < 10; r++) for (let c = 0; c < 3; c++) makePanel(r, c);
insets.forEach(makeInset);

// text around the grid
columnTitles.forEach((t, c) => {
  const d = document.createElement('div');
  d.className = 'ctitle'; d.textContent = t;
  d.style.left = (COL_X[c] + PLOT_W / 2) + 'px';
  document.body.appendChild(d);
});
yLabels.forEach((lines, r) => lines.forEach(([html, x]) => {
  const d = document.createElement('div');
  d.className = 'ylab'; d.innerHTML = html;
  d.style.left = x + 'px'; d.style.top = (ROW_Y[r] + PLOT_H / 2) + 'px';
  document.body.appendChild(d);
}));
const xl = document.createElement('div');
xl.className = 'xlab'; xl.textContent = 'distance from LRB1 (km)';
document.body.appendChild(xl);
const zoneLeft = [302, 493, 682, 872];
zoneNames.forEach((z, i) => {
  const d = document.createElement('div');
  d.className = 'zbox'; d.textContent = z;
  d.style.left = zoneLeft[i] + 'px'; d.style.background = ZONE_LEGEND[i];
  document.body.appendChild(d);
});
</script>
</body>
</html>
